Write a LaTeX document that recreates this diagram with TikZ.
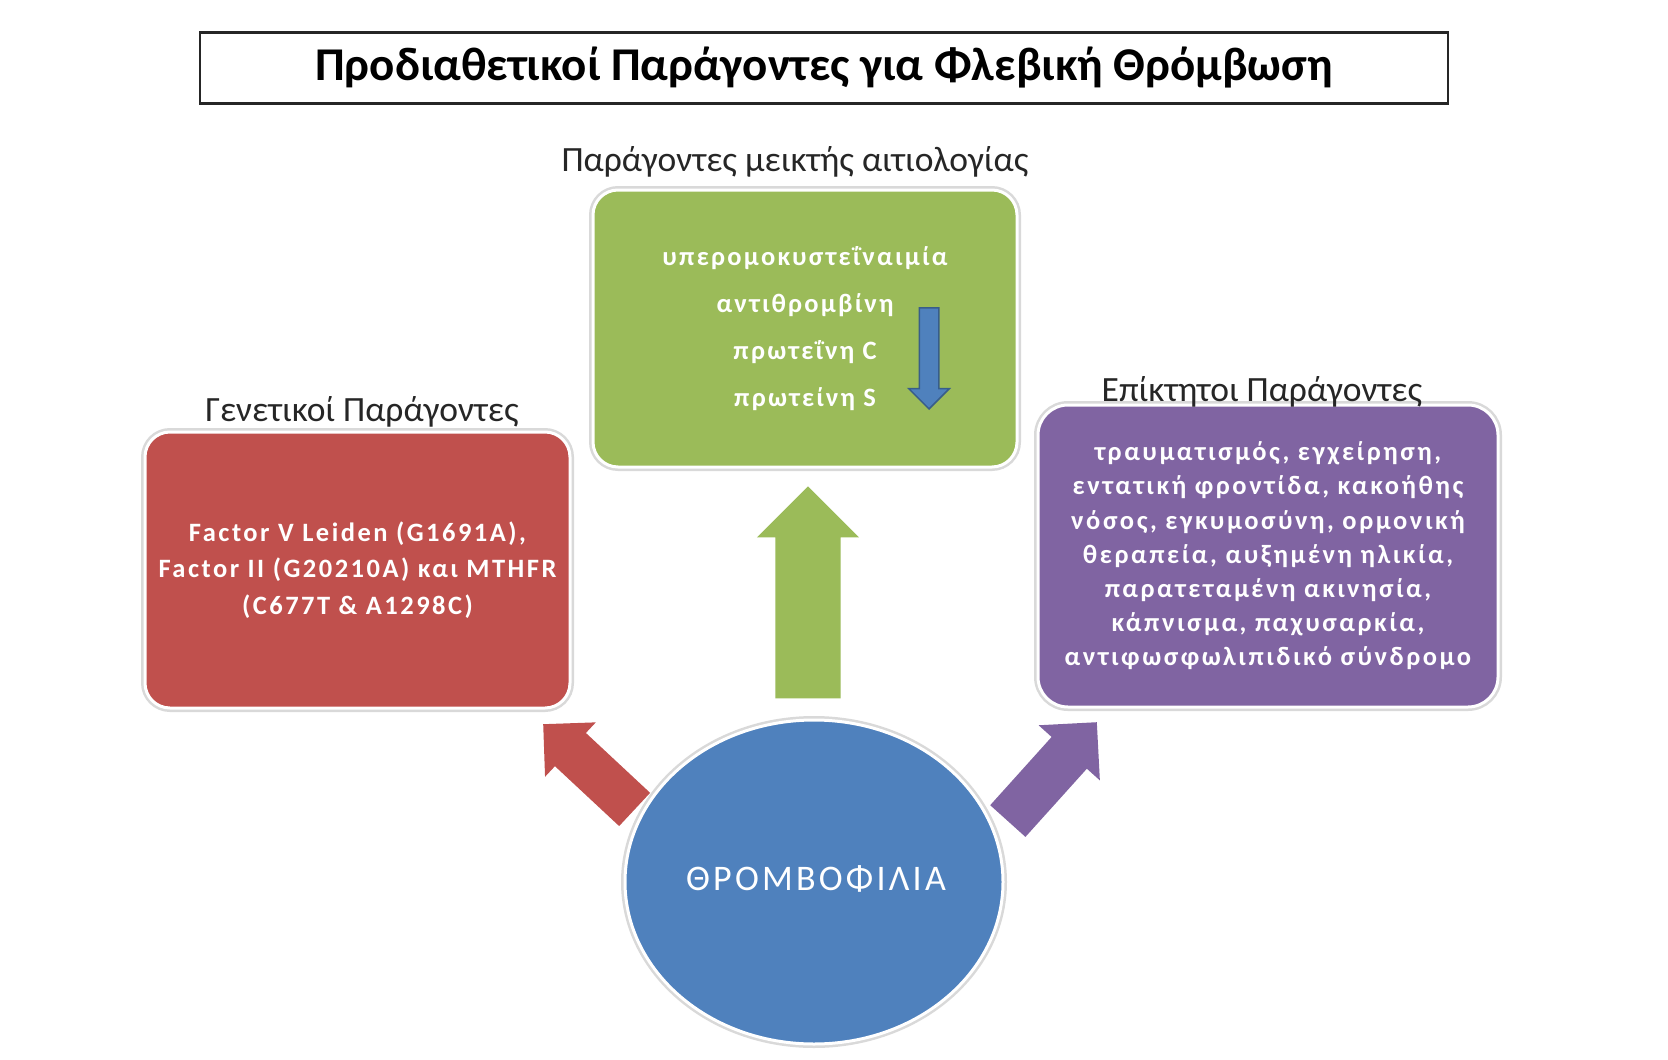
\documentclass[tikz,border=0pt]{standalone}
\usepackage{fontspec}
\setmainfont{Carlito}
\newfontfamily\boxfont{Carlito}
\usetikzlibrary{shapes.geometric,shapes.arrows}
\definecolor{cred}{HTML}{C0504D}
\definecolor{cgreen}{HTML}{9BBB59}
\definecolor{cpurple}{HTML}{8064A2}
\definecolor{cblue}{HTML}{4F81BD}
\definecolor{cbluedark}{HTML}{385D8A}
\begin{document}
\begin{tikzpicture}[x=1pt,y=-1pt,
  lbl/.style={font=\fontsize{35.5}{40}\selectfont, text=black!85, inner sep=0},
  cbox/.style={rounded corners=25pt, draw=white, line width=3pt, inner sep=0,
    text=white, align=center, preaction={draw=black!15, line width=8pt}},
  blockarrow/.style={single arrow, single arrow tip angle=90, inner xsep=0pt, anchor=tip}]
\useasboundingbox[fill=white] (0,0) rectangle (1668,1060);

% title
\node[draw=black!85, line width=2.5pt, minimum width=1248pt, minimum height=71pt, inner sep=0,
  font=\fontsize{47}{52}\selectfont\bfseries] (title) at (824,68)
  {Προδιαθετικοί Παράγοντες για Φλεβική Θρόμβωση};

% block arrows
\node[blockarrow, fill=cgreen, minimum height=212pt, inner ysep=32.5pt,
  single arrow head extend=18.5pt, rotate=90] (arrmix) at (808,486) {};
\node[blockarrow, fill=cred, minimum height=125pt, inner ysep=22.5pt,
  single arrow head extend=14.5pt, rotate=137] (arrgen) at (543,724) {};
\node[blockarrow, fill=cpurple, minimum height=133pt, inner ysep=23.5pt,
  single arrow head extend=17.5pt, rotate=48] (arracq) at (1097,722) {};

% central ellipse
\node[ellipse, fill=cblue, draw=white, line width=3pt, preaction={draw=black!15, line width=8pt},
  minimum width=378pt, minimum height=324pt, inner sep=0, text=white,
  font=\boxfont\addfontfeature{LetterSpace=9}\fontsize{36}{40}\selectfont] (thr) at (814,882) {};
\node[text=white, inner sep=0, font=\boxfont\addfontfeature{LetterSpace=9}\fontsize{36}{40}\selectfont]
  (thrtxt) at (816,879) {ΘΡΟΜΒΟΦΙΛΙΑ};

% boxes
\node[cbox, fill=cred, minimum width=425pt, minimum height=276pt,
  font=\boxfont\bfseries\addfontfeature{LetterSpace=9.4}\fontsize{26.5}{36.5}\selectfont] (gen) at (357.5,570)
  {Factor V Leiden (G1691A),\\Factor II (G20210A) και MTHFR\\(C677T \& A1298C)};
\node[cbox, fill=cgreen, minimum width=424pt, minimum height=277pt,
  font=\boxfont\bfseries\addfontfeature{LetterSpace=8.5}\fontsize{26.5}{47}\selectfont] (mix) at (805,328.5)
  {υπερομοκυστεΐναιμία\\αντιθρομβίνη\\πρωτεΐνη C\\πρωτείνη S};
\node[cbox, fill=cpurple, minimum width=460pt, minimum height=302pt, rounded corners=30pt,
  font=\boxfont\bfseries\addfontfeature{LetterSpace=9.6}\fontsize{26.5}{34.2}\selectfont] (acq) at (1268,556)
  {τραυματισμός, εγχείρηση,\\εντατική φροντίδα, κακοήθης\\νόσος, εγκυμοσύνη, ορμονική\\θεραπεία, αυξημένη ηλικία,\\παρατεταμένη ακινησία,\\κάπνισμα, παχυσαρκία,\\αντιφωσφωλιπιδικό σύνδρομο};

% small down arrow
\node[blockarrow, fill=cblue, draw=cbluedark, line width=1.5pt, minimum height=101pt,
  inner ysep=9pt, single arrow head extend=10.5pt, rotate=-90] (down) at (929,410) {};

% labels
\node[lbl] (lblmix) at (795,162) {Παράγοντες μεικτής αιτιολογίας};
\node[lbl] (lblgen) at (362,412) {Γενετικοί Παράγοντες};
\node[lbl] (lblacq) at (1262,392) {Επίκτητοι Παράγοντες};
\end{tikzpicture}
\end{document}
